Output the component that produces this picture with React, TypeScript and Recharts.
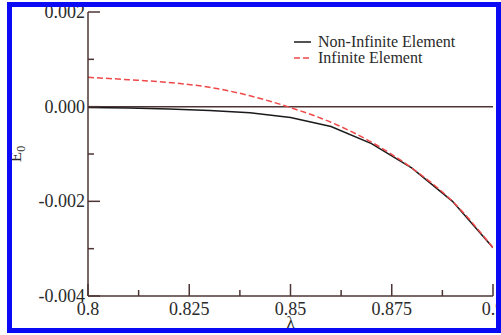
import React from "react";
import { LineChart, Line, XAxis, YAxis, ReferenceLine, Legend } from "recharts";

// lambda values along the x axis
const lambdas = [0.8, 0.81, 0.82, 0.83, 0.84, 0.85, 0.86, 0.87, 0.88, 0.89, 0.9];
// E0, non-infinite element (solid black)
const nonInfinite = [-0.00002, -0.00003, -0.00005, -0.00008, -0.00013, -0.00023, -0.00042, -0.00078, -0.0013, -0.002, -0.00298];
// E0, infinite element (red dashed)
const infinite = [0.00062, 0.00057, 0.00051, 0.00041, 0.00023, -0.00002, -0.00033, -0.00075, -0.0013, -0.002, -0.00298];

const xTicks = [0.8, 0.8125, 0.825, 0.8375, 0.85, 0.8625, 0.875, 0.8875, 0.9];
const xMajor = [0.8, 0.825, 0.85, 0.875, 0.9];
const yTicks = [-0.004, -0.003, -0.002, -0.001, 0, 0.001, 0.002];
const yMajor = [-0.004, -0.002, 0, 0.002];

const data = lambdas.map((l, i) => ({ lambda: l, nonInf: nonInfinite[i], inf: infinite[i] }));

const FONT = "Liberation Serif, DejaVu Serif, serif";
const AXIS = "#4e3434";
const TEXT = "#2a2a2a";
const MAJOR = 12;
const MINOR = 6;

const isIn = (arr: number[], v: number) => arr.some((a) => Math.abs(a - v) < 1e-9);

function BottomTick(props: any) {
  const { x, y, payload } = props;
  const major = isIn(xMajor, payload.value);
  return (
    <g>
      <line x1={x} x2={x} y1={y} y2={y - (major ? MAJOR : MINOR)} stroke={AXIS} strokeWidth={1.5} />
      {major && (
        <text x={x} y={y + 19} textAnchor="middle" style={{ fontFamily: FONT, fontSize: 18 }} fill={TEXT}>
          {String(payload.value)}
        </text>
      )}
    </g>
  );
}

function TopTick(props: any) {
  const { x, y, payload } = props;
  const major = isIn(xMajor, payload.value);
  return <line x1={x} x2={x} y1={y} y2={y + (major ? MAJOR : MINOR)} stroke={AXIS} strokeWidth={1.5} />;
}

function LeftTick(props: any) {
  const { x, y, payload } = props;
  const major = isIn(yMajor, payload.value);
  return (
    <g>
      <line x1={x} x2={x + (major ? MAJOR : MINOR)} y1={y} y2={y} stroke={AXIS} strokeWidth={1.5} />
      {major && (
        <text x={x - 3} y={y + 6} textAnchor="end" style={{ fontFamily: FONT, fontSize: 18 }} fill={TEXT}>
          {payload.value.toFixed(3)}
        </text>
      )}
    </g>
  );
}

function RightTick(props: any) {
  const { x, y, payload } = props;
  const major = isIn(yMajor, payload.value);
  return <line x1={x} x2={x - (major ? MAJOR : MINOR)} y1={y} y2={y} stroke={AXIS} strokeWidth={1.5} />;
}

function YLabel(props: any) {
  const vb = props.viewBox || { x: 0, y: 12, width: 88, height: 284 };
  const cx = vb.x + 21;
  const cy = vb.y + vb.height / 2;
  return (
    <text x={cx} y={cy} transform={`rotate(-90, ${cx}, ${cy})`} textAnchor="middle" style={{ fontFamily: FONT, fontSize: 17 }} fill={TEXT}>
      E<tspan dy={4} style={{ fontSize: 12 }}>0</tspan>
    </text>
  );
}

function XLabel(props: any) {
  const vb = props.viewBox || { x: 88, y: 296, width: 405, height: 39 };
  return (
    <text x={vb.x + vb.width / 2} y={vb.y + 32} textAnchor="middle" style={{ fontFamily: FONT, fontSize: 17 }} fill={TEXT}>
      λ
    </text>
  );
}

function LegendBox() {
  const rows = [
    { name: "Non-Infinite Element", color: "#1a1a1a", dash: undefined },
    { name: "Infinite Element", color: "#f04848", dash: "6 3" },
  ];
  return (
    <div style={{ fontFamily: FONT, fontSize: 16, lineHeight: "16px", color: TEXT }}>
      {rows.map((r) => (
        <div key={r.name} style={{ display: "flex", alignItems: "center", height: 16 }}>
          <svg width={18} height={16} style={{ marginRight: 6 }}>
            <line x1={0} x2={17} y1={8} y2={8} stroke={r.color} strokeWidth={1.5} strokeDasharray={r.dash} />
          </svg>
          <span>{r.name}</span>
        </div>
      ))}
    </div>
  );
}

export default function App() {
  return (
    <div style={{ position: "absolute", left: 0, top: 0, width: 501, height: 335, background: "#fff", fontFamily: FONT }}>
      <LineChart width={501} height={335} data={data} margin={{ top: 12, right: 8, bottom: 0, left: 0 }}>
        <XAxis
          xAxisId={0}
          dataKey="lambda"
          type="number"
          domain={[0.8, 0.9]}
          allowDataOverflow
          ticks={xTicks}
          interval={0}
          tickSize={0}
          tickMargin={0}
          height={39}
          tick={<BottomTick />}
          axisLine={{ stroke: AXIS, strokeWidth: 1.5 }}
          label={<XLabel />}
        />
        <XAxis
          xAxisId="top"
          orientation="top"
          dataKey="lambda"
          type="number"
          domain={[0.8, 0.9]}
          allowDataOverflow
          ticks={xTicks}
          interval={0}
          tickSize={0}
          tickMargin={0}
          height={0}
          tick={<TopTick />}
          axisLine={{ stroke: AXIS, strokeWidth: 1.5 }}
        />
        <YAxis
          yAxisId={0}
          type="number"
          domain={[-0.004, 0.002]}
          allowDataOverflow
          ticks={yTicks}
          interval={0}
          tickSize={0}
          tickMargin={0}
          width={88}
          tick={<LeftTick />}
          axisLine={{ stroke: AXIS, strokeWidth: 1.5 }}
          label={<YLabel />}
        />
        <YAxis
          yAxisId="right"
          orientation="right"
          type="number"
          domain={[-0.004, 0.002]}
          allowDataOverflow
          ticks={yTicks}
          interval={0}
          tickSize={0}
          tickMargin={0}
          width={0}
          tick={<RightTick />}
          axisLine={{ stroke: AXIS, strokeWidth: 1.5 }}
        />
        <ReferenceLine y={0} stroke={AXIS} strokeWidth={1.5} />
        <Legend
          layout="vertical"
          align="center"
          verticalAlign="middle"
          content={<LegendBox />}
          wrapperStyle={{ top: 34, left: 294, width: 200 }}
        />
        <Line
          dataKey="nonInf"
          name="Non-Infinite Element"
          type="linear"
          stroke="#1a1a1a"
          strokeWidth={1.5}
          dot={false}
          isAnimationActive={false}
        />
        <Line
          dataKey="inf"
          name="Infinite Element"
          type="monotone"
          stroke="#f04848"
          strokeWidth={1.5}
          strokeDasharray="6 3"
          dot={false}
          isAnimationActive={false}
        />
      </LineChart>
      <div
        style={{
          position: "absolute",
          left: 7,
          top: 2,
          width: 494,
          height: 331,
          boxSizing: "border-box",
          border: "5px solid #0a0af5",
          pointerEvents: "none",
        }}
      />
    </div>
  );
}
